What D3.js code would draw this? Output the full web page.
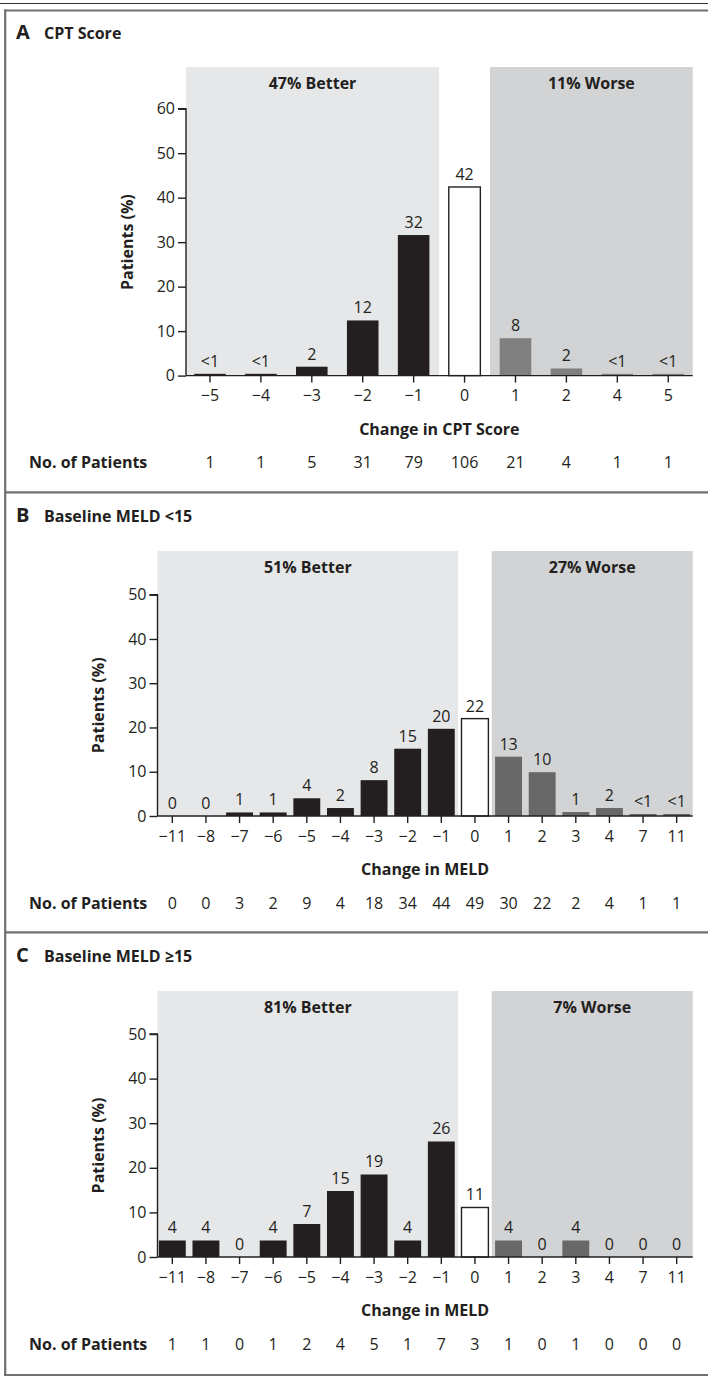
<!DOCTYPE html>
<html>
<head>
<meta charset="utf-8"/>
<title>Change in CPT and MELD scores</title>
<script src="https://cdn.jsdelivr.net/npm/d3@7/dist/d3.min.js"></script>
<style>
	body { margin: 0; background: #fff; }
	svg text { font-family: "Open Sans", "Lato", sans-serif; fill: #231f20; }
</style>
</head>
<body>
<div id="chart"></div>
<script>
// Panel A: CPT score
var cptCats = ["\u22125", "\u22124", "\u22123", "\u22122", "\u22121", "0", "1", "2", "4", "5"];
var cptPct = [0.4, 0.4, 2.0, 12.4, 31.6, 42.4, 8.4, 1.6, 0.4, 0.4];
var cptLabels = ["<1", "<1", "2", "12", "32", "42", "8", "2", "<1", "<1"];
var cptN = [1, 1, 5, 31, 79, 106, 21, 4, 1, 1];

// Panels B and C: MELD
var meldCats = ["\u221211", "\u22128", "\u22127", "\u22126", "\u22125", "\u22124", "\u22123", "\u22122", "\u22121",
	"0", "1", "2", "3", "4", "7", "11"];
var lowPct = [0, 0, 0.8, 0.8, 4.0, 1.8, 8.1, 15.2, 19.7, 22.0, 13.4, 9.9, 0.9, 1.8, 0.45, 0.45];
var lowLabels = ["0", "0", "1", "1", "4", "2", "8", "15", "20", "22", "13", "10", "1", "2", "<1", "<1"];
var lowN = [0, 0, 3, 2, 9, 4, 18, 34, 44, 49, 30, 22, 2, 4, 1, 1];

var highPct = [3.7, 3.7, 0, 3.7, 7.4, 14.8, 18.5, 3.7, 25.9, 11.1, 3.7, 0, 3.7, 0, 0, 0];
var highLabels = ["4", "4", "0", "4", "7", "15", "19", "4", "26", "11", "4", "0", "4", "0", "0", "0"];
var highN = [1, 1, 0, 1, 2, 4, 5, 1, 7, 3, 1, 0, 1, 0, 0, 0];

var panels = [
	{ letter: "A", title: "CPT Score", cats: cptCats, pct: cptPct, labels: cptLabels, n: cptN,
	  better: "47% Better", worse: "11% Worse", xTitle: "Change in CPT Score", ymax: 60, worseFill: "#808080",
	  titleY: 38.5, shadeTop: 67, y0: 375.6, yTop: 108.7, axisX: 186, range: [184.5, 693.7], pad: 0.38 },
	{ letter: "B", title: "Baseline MELD <15", cats: meldCats, pct: lowPct, labels: lowLabels, n: lowN,
	  better: "51% Better", worse: "27% Worse", xTitle: "Change in MELD", ymax: 50, worseFill: "#686868",
	  titleY: 521.5, shadeTop: 551, y0: 816, yTop: 594.7, axisX: 157.5, range: [155.5, 693.5], pad: 0.2 },
	{ letter: "C", title: "Baseline MELD \u226515", cats: meldCats, pct: highPct, labels: highLabels, n: highN,
	  better: "81% Better", worse: "7% Worse", xTitle: "Change in MELD", ymax: 50, worseFill: "#686868",
	  titleY: 961.5, shadeTop: 991, y0: 1257, yTop: 1034, axisX: 157.5, range: [155.5, 693.5], pad: 0.2 }
];

var W = 708, H = 1377, plotRight = 692.7, FS = 16;
var ink = "#231f20", frame = "#707070";

var svg = d3.select("#chart").append("svg").attr("width", W).attr("height", H);

// frame
svg.append("line").attr("x1", 0).attr("x2", W).attr("y1", 3.5).attr("y2", 3.5)
	.attr("stroke", "#333").attr("stroke-width", 1);
svg.append("line").attr("x1", 4).attr("x2", W).attr("y1", 10.5).attr("y2", 10.5)
	.attr("stroke", frame).attr("stroke-width", 2.2);
svg.append("line").attr("x1", 5.2).attr("x2", 5.2).attr("y1", 9.5).attr("y2", 1375.5)
	.attr("stroke", frame).attr("stroke-width", 2.2);
[492.3, 932.3, 1375].forEach(function(y) {
	svg.append("line").attr("x1", 4).attr("x2", W).attr("y1", y).attr("y2", y)
		.attr("stroke", frame).attr("stroke-width", 2.2);
});

panels.forEach(function(p) {
	var g = svg.append("g");
	var x = d3.scaleBand().domain(p.cats).range(p.range).paddingInner(p.pad).paddingOuter(p.pad / 2);
	var y = d3.scaleLinear().domain([0, p.ymax]).range([p.y0, p.yTop]);
	var step = x.step(), gap = (step - x.bandwidth()) / 2;

	// title
	g.append("text").attr("x", 16).attr("y", p.titleY).attr("font-size", 20).attr("font-weight", 700).text(p.letter);
	g.append("text").attr("x", 44).attr("y", p.titleY).attr("font-size", FS).attr("font-weight", 700).text(p.title);

	// shaded regions
	var betterRight = x("\u22121") + x.bandwidth() + gap;
	var worseLeft = x("1") - gap;
	g.append("rect").attr("x", p.axisX).attr("y", p.shadeTop)
		.attr("width", betterRight - p.axisX).attr("height", p.y0 - p.shadeTop).attr("fill", "#e6e7e8");
	g.append("rect").attr("x", worseLeft).attr("y", p.shadeTop)
		.attr("width", plotRight - worseLeft).attr("height", p.y0 - p.shadeTop).attr("fill", "#d1d3d4");
	g.append("text").attr("x", (p.axisX + betterRight) / 2).attr("y", p.shadeTop + 21.5)
		.attr("text-anchor", "middle").attr("font-size", FS).attr("font-weight", 700).text(p.better);
	g.append("text").attr("x", (worseLeft + plotRight) / 2).attr("y", p.shadeTop + 21.5)
		.attr("text-anchor", "middle").attr("font-size", FS).attr("font-weight", 700).text(p.worse);

	// bars
	var zi = p.cats.indexOf("0");
	g.selectAll("rect.bar").data(p.pct).enter().append("rect")
		.attr("class", "bar")
		.attr("x", function(d, i) { return x(p.cats[i]); })
		.attr("y", function(d) { return y(d); })
		.attr("width", x.bandwidth())
		.attr("height", function(d) { return p.y0 - y(d); })
		.attr("fill", function(d, i) { return i < zi ? ink : (i === zi ? "#fff" : p.worseFill); })
		.attr("stroke", function(d, i) { return i === zi ? ink : "none"; })
		.attr("stroke-width", 1.4);

	g.selectAll("text.val").data(p.labels).enter().append("text")
		.attr("class", "val")
		.attr("x", function(d, i) { return x(p.cats[i]) + x.bandwidth() / 2; })
		.attr("y", function(d, i) { return y(p.pct[i]) - 7; })
		.attr("text-anchor", "middle").attr("font-size", FS)
		.text(function(d) { return d; });

	// y axis
	var ya = g.append("g").attr("transform", "translate(" + p.axisX + ",0)")
		.call(d3.axisLeft(y).ticks(p.ymax / 10).tickSize(8).tickPadding(3));
	ya.select(".domain").attr("stroke", ink).attr("stroke-width", 1.4).attr("d", "M0," + p.y0 + "V" + p.yTop + "H-8");
	ya.selectAll(".tick line").attr("stroke", ink).attr("stroke-width", 1.4);
	ya.selectAll(".tick text").attr("font-size", FS).attr("font-family", null).attr("fill", ink);

	g.append("text")
		.attr("transform", "translate(" + (p.axisX - 59) + "," + ((p.y0 + p.yTop) / 2) + ") rotate(-90)")
		.attr("text-anchor", "middle").attr("dy", "0.35em").attr("font-size", FS).attr("font-weight", 700)
		.text("Patients (%)");

	// x axis
	var xa = g.append("g").attr("transform", "translate(0," + p.y0 + ")")
		.call(d3.axisBottom(x).tickSize(7).tickPadding(5));
	xa.select(".domain").attr("stroke", ink).attr("stroke-width", 1.4).attr("d", "M" + p.axisX + ",0H" + plotRight);
	xa.selectAll(".tick line").attr("stroke", ink).attr("stroke-width", 1.4);
	xa.selectAll(".tick text").attr("font-size", FS).attr("font-family", null).attr("fill", ink)
		.attr("dy", null).attr("y", 25.5);

	g.append("text").attr("x", (p.axisX + plotRight) / 2).attr("y", p.y0 + 59)
		.attr("text-anchor", "middle").attr("font-size", FS).attr("font-weight", 700).text(p.xTitle);

	// patient counts
	g.append("text").attr("x", 29).attr("y", p.y0 + 92.5)
		.attr("font-size", FS).attr("font-weight", 700).text("No. of Patients");
	g.selectAll("text.n").data(p.n).enter().append("text")
		.attr("class", "n")
		.attr("x", function(d, i) { return x(p.cats[i]) + x.bandwidth() / 2; })
		.attr("y", p.y0 + 92.5)
		.attr("text-anchor", "middle").attr("font-size", FS)
		.text(function(d) { return d; });
});
</script>
</body>
</html>
